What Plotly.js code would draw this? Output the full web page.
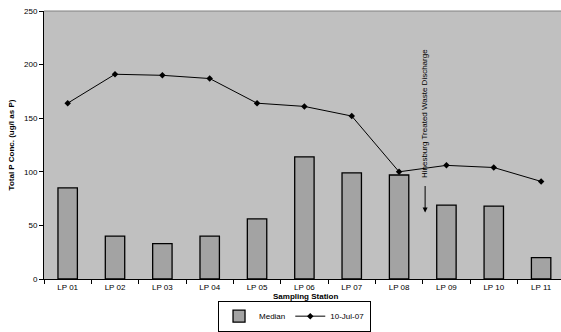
<!DOCTYPE html>
<html>
<head>
<meta charset="utf-8">
<script src="https://cdn.plot.ly/plotly-3.0.1.min.js"></script>
<style>
  html, body { margin: 0; padding: 0; background: #fff; }
  #chart { width: 561px; height: 332px; }
</style>
</head>
<body>
<div id="chart"></div>
<script>
// Total phosphorus by sampling station
const stations = ['LP 01', 'LP 02', 'LP 03', 'LP 04', 'LP 05', 'LP 06', 'LP 07', 'LP 08', 'LP 09', 'LP 10', 'LP 11'];
const medianValues = [85, 40, 33, 40, 56, 114, 99, 97, 69, 68, 20];
const july10Values = [164, 191, 190, 187, 164, 161, 152, 100, 106, 104, 91];
const yTicks = [0, 50, 100, 150, 200, 250];

const FONT = 'Arial, "Liberation Sans", sans-serif';

const traces = [
  {
    type: 'bar',
    name: 'Median',
    x: stations,
    y: medianValues,
    width: 0.41,
    marker: { color: '#a3a3a3', line: { color: '#000', width: 1.3 } }
  },
  {
    type: 'scatter',
    mode: 'lines+markers',
    name: '10-Jul-07',
    x: stations,
    y: july10Values,
    line: { color: '#000', width: 1 },
    marker: { symbol: 'diamond', size: 5, color: '#000' }
  }
];

const layout = {
  width: 561,
  height: 332,
  margin: { l: 44, r: 0, t: 11, b: 53, autoexpand: false },
  paper_bgcolor: '#fff',
  plot_bgcolor: '#c0c0c0',
  font: { family: FONT, size: 8, color: '#000' },
  showlegend: true,
  legend: {
    orientation: 'h',
    xref: 'container', yref: 'container',
    x: 0.525, xanchor: 'center',
    y: 0.001, yanchor: 'bottom',
    bordercolor: '#000', borderwidth: 1,
    bgcolor: '#fff',
    font: { family: FONT, size: 8 },
    itemwidth: 30,
    tracegroupgap: 0
  },
  xaxis: {
    type: 'category',
    range: [-0.5, 10.42],
    showgrid: false,
    showline: true, linecolor: '#000', linewidth: 1,
    ticks: 'outside', tickson: 'boundaries', ticklen: 4, tickcolor: '#000',
    tickfont: { family: FONT, size: 8 },
    automargin: false,
    fixedrange: true
  },
  yaxis: {
    range: [0, 250],
    tickvals: yTicks,
    showgrid: false,
    zeroline: false,
    showline: true, linecolor: '#000', linewidth: 1,
    ticks: 'outside', ticklen: 4, tickcolor: '#000',
    tickfont: { family: FONT, size: 8 },
    title: { text: '<b>Total P Conc. (ug/l as P)</b>', font: { family: FONT, size: 8 }, standoff: 8 },
    automargin: false,
    fixedrange: true
  },
  shapes: [
    { type: 'line', xref: 'paper', yref: 'paper', x0: 0, x1: 1, y0: 1, y1: 1,
      line: { color: '#808080', width: 1 } }
  ],
  annotations: [
    // x-axis title, placed between the tick labels and the legend
    { x: 0.505, y: -0.067, xref: 'paper', yref: 'paper', xanchor: 'center', yanchor: 'middle',
      text: '<b>Sampling Station</b>', showarrow: false, font: { family: FONT, size: 8 } },
    { x: 7.55, y: 154, xref: 'x', yref: 'y',
      text: 'Hinesburg Treated Waste Discharge', textangle: -90,
      showarrow: false, font: { family: FONT, size: 8 } },
    { x: 7.55, y: 62, xref: 'x', yref: 'y', text: '',
      showarrow: true, arrowhead: 2, arrowsize: 1, arrowwidth: 1, arrowcolor: '#000',
      ax: 0, ay: -28 }
  ]
};

Plotly.newPlot('chart', traces, layout, { displayModeBar: false, staticPlot: true });
</script>
</body>
</html>
